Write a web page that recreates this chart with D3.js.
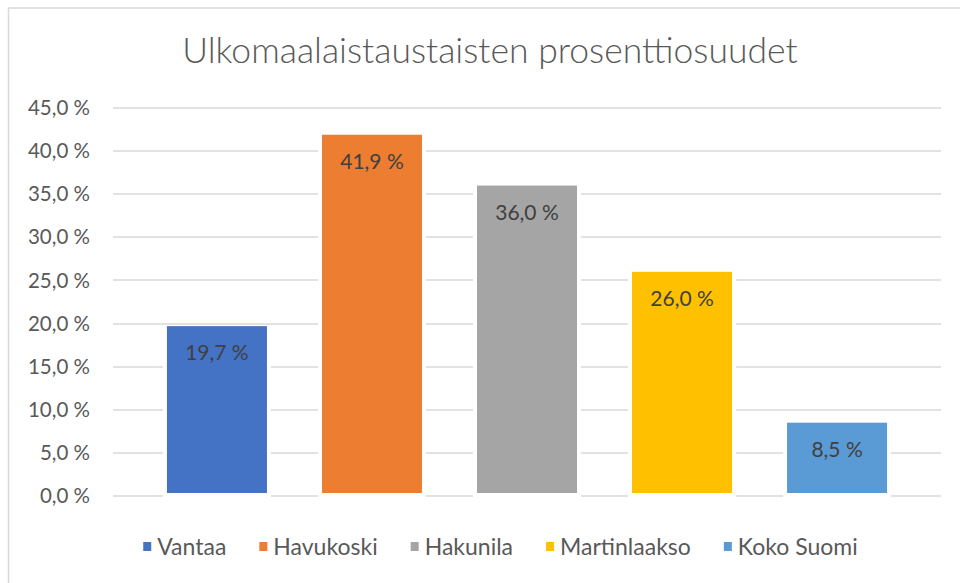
<!DOCTYPE html>
<html><head><meta charset="utf-8">
<script src="https://cdn.jsdelivr.net/npm/d3@7"></script>
<style>html,body{margin:0;padding:0;background:#fff;}svg{display:block;}</style>
</head><body>
<svg id="c" width="960" height="583"></svg>
<script>
const title = "Ulkomaalaistaustaisten prosenttiosuudet";
const series = ["Vantaa", "Havukoski", "Hakunila", "Martinlaakso", "Koko Suomi"];
const values = [19.7, 41.9, 36.0, 26.0, 8.5];
const colors = ["#4472C4", "#ED7D31", "#A5A5A5", "#FFC000", "#5B9BD5"];
const yTicks = [0, 5, 10, 15, 20, 25, 30, 35, 40, 45];

(function () {
const fmt = v => d3.format(".1f")(v).replace(".", ",") + " %";
const font = "Lato, 'Open Sans', sans-serif";
const svg = d3.select("#c");

// chart border
svg.append("rect").attr("x", 8.5).attr("y", 8).attr("width", 980).attr("height", 600)
  .attr("fill", "#fff").attr("stroke", "#d9d9d9").attr("stroke-width", 1.5);

const pLeft = 113, pRight = 941, pTop = 108, pBottom = 496;
const y = d3.scaleLinear().domain([0, 45]).range([pBottom, pTop]);
const x = d3.scaleBand().domain(series).range([pLeft, pRight]).paddingInner(0.355).paddingOuter(0.348);

// grid
svg.append("g").selectAll("line").data(yTicks).join("line")
  .attr("x1", pLeft).attr("x2", pRight)
  .attr("y1", d => Math.round(y(d))).attr("y2", d => Math.round(y(d)))
  .attr("stroke", "#d9d9d9").attr("stroke-width", 1.6);

// y axis labels
const yAxis = d3.axisLeft(y).tickValues(yTicks).tickFormat(fmt).tickSize(0).tickPadding(0);
const ga = svg.append("g").attr("transform", `translate(90,0)`).call(yAxis);
ga.select(".domain").remove();
ga.selectAll("text").attr("fill", "#595959").style("font-family", font).style("font-size", "20.5px");

// white gaps around bars
svg.append("g").selectAll("rect").data(values).join("rect")
  .attr("x", (d, i) => x(series[i]) - 4)
  .attr("y", d => y(d) - 1)
  .attr("width", x.bandwidth() + 8)
  .attr("height", d => y(0) - y(d) + 4)
  .attr("fill", "#fff");

// bars
svg.append("g").selectAll("rect").data(values).join("rect")
  .attr("x", (d, i) => x(series[i]))
  .attr("y", d => y(d))
  .attr("width", x.bandwidth())
  .attr("height", d => y(0) - y(d) - 3)
  .attr("fill", (d, i) => colors[i]);

// labels
svg.append("g").selectAll("text").data(values).join("text")
  .attr("x", (d, i) => x(series[i]) + x.bandwidth() / 2)
  .attr("y", d => y(d) + 34)
  .attr("text-anchor", "middle")
  .attr("fill", "#404040")
  .style("font-family", font).style("font-size", "21px")
  .text(d => fmt(d));

// title
svg.append("text").attr("x", 490).attr("y", 63).attr("text-anchor", "middle")
  .attr("fill", "#595959").style("font-family", font).style("font-size", "35.5px").style("font-weight", 300)
  .text(title);

// legend (sequential layout, centred)
const lg = svg.append("g");
const items = lg.selectAll("g").data(series).join("g");
items.append("rect").attr("x", 0).attr("y", 542).attr("width", 8).attr("height", 9)
  .attr("fill", (d, i) => colors[i]);
items.append("text").attr("x", 14).attr("y", 555)
  .attr("fill", "#595959").style("font-family", font).style("font-size", "23px")
  .text(d => d);
let cx = 0;
const offs = [];
items.each(function () {
  const w = this.querySelector("text").getComputedTextLength();
  offs.push(cx);
  cx += 14 + w + 33;
});
const total = cx - 33;
const start = 500.5 - total / 2;
items.attr("transform", (d, i) => `translate(${start + offs[i]},0)`);
})();
</script>
</body></html>
